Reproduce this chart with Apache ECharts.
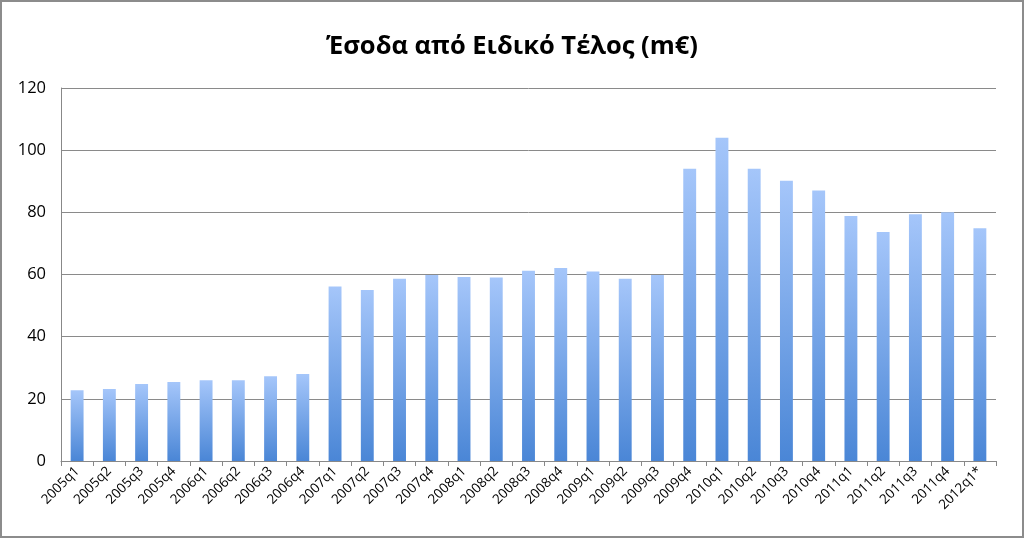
<!DOCTYPE html>
<html>
<head>
<meta charset="utf-8">
<script src="https://cdn.jsdelivr.net/npm/echarts@6/dist/echarts.min.js"></script>
<style>
html,body{margin:0;padding:0;background:#fff;}
#c{width:1024px;height:538px;box-sizing:border-box;border:2px solid #8c8c8c;}
</style>
</head>
<body>
<div id="c"></div>
<script>
const titleText = 'Έσοδα από Ειδικό Τέλος (m€)';
const categories = ['2005q1','2005q2','2005q3','2005q4','2006q1','2006q2','2006q3','2006q4',
 '2007q1','2007q2','2007q3','2007q4','2008q1','2008q2','2008q3','2008q4',
 '2009q1','2009q2','2009q3','2009q4','2010q1','2010q2','2010q3','2010q4',
 '2011q1','2011q2','2011q3','2011q4','2012q1*'];
const values = [22.8,23.2,24.8,25.4,26.0,26.0,27.3,28.0,
 56.1,55.0,58.6,59.8,59.2,59.0,61.2,62.1,
 61.0,58.6,59.8,94.0,104.0,94.0,90.2,87.0,
 78.8,73.7,79.4,80.0,74.9];
const yTicks = {min:0, max:120, interval:20};

const chart = echarts.init(document.getElementById('c'));
chart.setOption({
  animation:false,
  backgroundColor:'#fff',
  title:{text:titleText,left:'center',top:27,
    textStyle:{fontFamily:'Open Sans',fontSize:25.5,fontWeight:'bold',color:'#000'}},
  grid:{left:59,right:26,top:86,bottom:75},
  xAxis:{type:'category',data:categories,
    axisLine:{lineStyle:{color:'#888',width:1}},
    axisTick:{show:true,interval:0,length:5,lineStyle:{color:'#888'}},
    axisLabel:{interval:0,rotate:45,fontFamily:'Open Sans',fontSize:13.5,color:'#000',margin:8}},
  yAxis:{type:'value',min:yTicks.min,max:yTicks.max,interval:yTicks.interval,
    axisLine:{show:true,lineStyle:{color:'#888',width:1}},
    axisTick:{show:false},
    splitLine:{lineStyle:{color:'#8a8a8a',width:1}},
    axisLabel:{fontFamily:'Open Sans',fontSize:16.5,color:'#000',margin:15}},
  series:[{type:'bar',data:values,barWidth:'40%',
    itemStyle:{color:new echarts.graphic.LinearGradient(0,0,0,1,[
      {offset:0,color:'#a5c6fa'},{offset:1,color:'#4a86d6'}])}}]
});
</script>
</body>
</html>
